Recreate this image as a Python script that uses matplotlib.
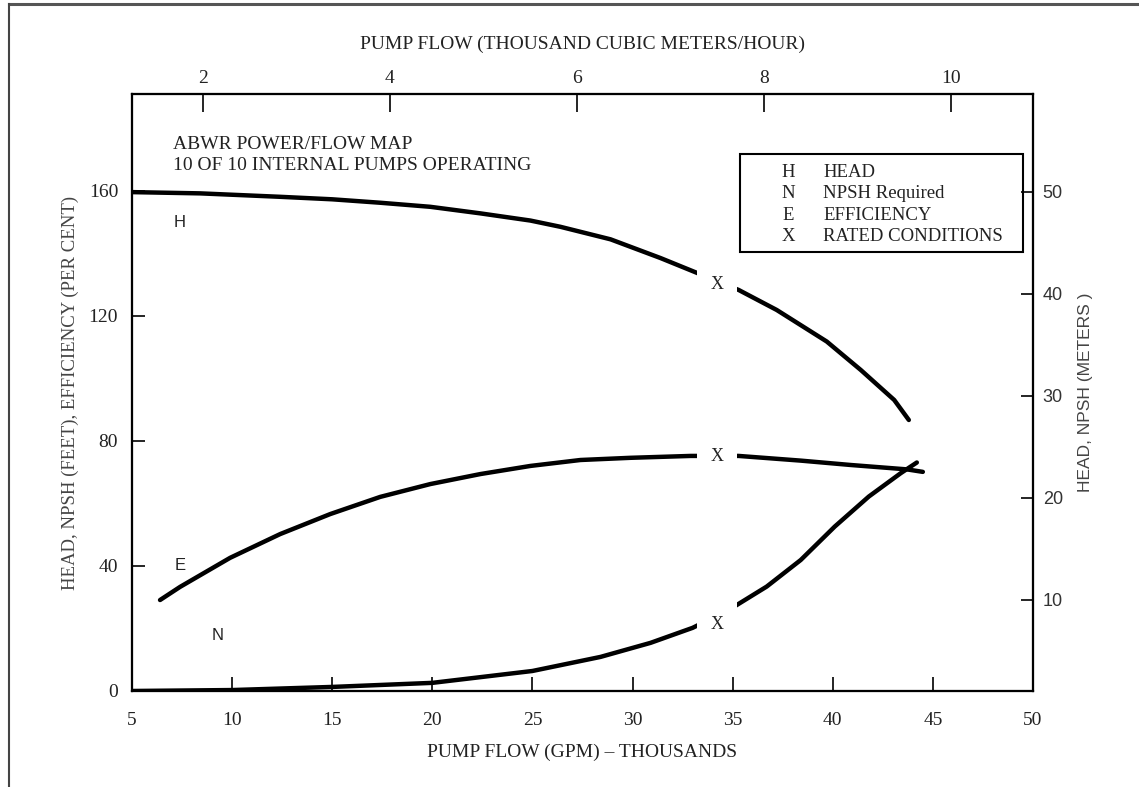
import matplotlib
matplotlib.use("Agg")
import matplotlib.pyplot as plt
from matplotlib.lines import Line2D
from matplotlib.patches import Rectangle

# pump curves (flow in thousand gpm, values in feet / per cent)
head_gpm = [5.0, 8.4, 12.4, 15.0, 17.4, 19.9, 22.4, 24.9, 26.4, 28.9, 31.4, 33.05,
            35.3, 37.2, 39.7, 41.4, 43.07, 43.8]
head_ft = [159.6, 159.2, 158.1, 157.3, 156.2, 154.9, 152.8, 150.5, 148.5, 144.5, 138.5, 134.2,
           128.3, 121.9, 111.8, 102.7, 93.1, 86.7]

eff_gpm = [6.4, 7.4, 9.9, 12.4, 14.9, 17.4, 19.9, 22.4, 24.9, 27.4, 29.9, 32.9,
           35.3, 38.4, 40.9, 43.7, 44.5]
eff_pct = [29.1, 33.3, 42.6, 50.2, 56.6, 62.1, 66.2, 69.4, 72.0, 73.9, 74.6, 75.2,
           75.2, 73.7, 72.3, 70.9, 70.1]

npsh_gpm = [5.0, 10.0, 15.0, 20.0, 25.0, 28.4, 30.9, 33.0, 34.8, 36.7, 38.4, 40.1,
            41.8, 43.4, 44.2]
npsh_ft = [0.0, 0.3, 1.3, 2.6, 6.4, 10.9, 15.4, 20.2, 25.9, 33.4, 41.9, 52.6,
           62.2, 69.7, 73.1]

rated_gpm = [34.2, 34.2, 34.2]
rated_val = [130.2, 75.0, 21.4]

curve_tags = ["H", "E", "N"]
tag_gpm = [7.4, 7.4, 9.3]
tag_val = [150.0, 40.3, 17.6]

legend_keys = ["H", "N", "E", "X"]
legend_names = ["HEAD", "NPSH Required", "EFFICIENCY", "RATED CONDITIONS"]

gpm_ticks = [5, 10, 15, 20, 25, 30, 35, 40, 45, 50]
ft_ticks = [0, 40, 80, 120, 160]
m_ticks = [10, 20, 30, 40, 50]
m3h_ticks = [2, 4, 6, 8, 10]

serif = "Liberation Serif"
sans = "Liberation Sans"
ink = "#222222"

fig = plt.figure(figsize=(11.39, 7.87), dpi=100)
ax = fig.add_axes([0.1159, 0.122, 0.791, 0.7586])
ax_r = ax.twinx()
ax_t = ax.twiny()

lw = 3.2
ax.plot(head_gpm, head_ft, color="black", lw=lw, solid_capstyle="round")
ax.plot(eff_gpm, eff_pct, color="black", lw=lw, solid_capstyle="round")
ax.plot(npsh_gpm, npsh_ft, color="black", lw=lw, solid_capstyle="round")

for g, v in zip(rated_gpm, rated_val):
    ax.text(g, v, "X", ha="center", va="center", fontsize=13, family=serif, color=ink,
            zorder=5, bbox=dict(boxstyle="square,pad=0.75", fc="white", ec="none"))

for t, g, v in zip(curve_tags, tag_gpm, tag_val):
    ax.text(g, v, t, ha="center", va="center", fontsize=12, family=sans, color=ink)

ax.text(0.0455, 0.9146, "ABWR POWER/FLOW MAP", transform=ax.transAxes, fontsize=14,
        family=serif, color=ink, va="center")
ax.text(0.0455, 0.8794, "10 OF 10 INTERNAL PUMPS OPERATING", transform=ax.transAxes,
        fontsize=14, family=serif, color=ink, va="center")

# legend box
ax.add_patch(Rectangle((0.675, 0.7353), 0.314, 0.1642, transform=ax.transAxes,
                       fill=False, ec="black", lw=1.5, zorder=4))
rows_y = [0.8677, 0.8325, 0.797, 0.7605]
for k, name, y in zip(legend_keys, legend_names, rows_y):
    ax.text(0.728, y, k, transform=ax.transAxes, ha="center", va="center",
            fontsize=13.5, family=serif, color=ink)
    ax.text(0.767, y, name, transform=ax.transAxes, ha="left", va="center",
            fontsize=13.5, family=serif, color=ink)

ax.set_xlim(5, 50)
ax.set_ylim(0, 191)
ax.set_xticks(gpm_ticks)
ax.set_yticks(ft_ticks)
ax.set_xlabel("PUMP FLOW (GPM) \u2013 THOUSANDS", fontsize=14, family=serif, color=ink, labelpad=11)
ax.set_ylabel("HEAD, NPSH (FEET), EFFICIENCY (PER CENT)", fontsize=13.5, family=serif,
              color="#444444", labelpad=7)
ax.tick_params(axis="x", direction="in", length=10, width=1.2, pad=15, labelsize=14, labelcolor=ink)
ax.tick_params(axis="y", direction="in", length=9.5, width=1.2, pad=10, labelsize=14, labelcolor=ink)
for lab in ax.get_xticklabels() + ax.get_yticklabels():
    lab.set_family(serif)

ax_r.set_ylim(1.08, 59.6)
ax_r.set_yticks(m_ticks)
ax_r.set_ylabel("HEAD, NPSH (METERS )", fontsize=12.5, family=sans, color="#444444",
                labelpad=11)
ax_r.tick_params(axis="y", direction="in", length=8.6, width=1.2, pad=7, labelsize=13,
                 labelcolor="#333333")
for lab in ax_r.get_yticklabels():
    lab.set_family(sans)

ax_t.set_xlim(1.24, 10.88)
ax_t.set_xticks(m3h_ticks)
ax_t.set_xlabel("PUMP FLOW (THOUSAND CUBIC METERS/HOUR)", fontsize=14, family=serif,
                color=ink, labelpad=15)
ax_t.tick_params(axis="x", direction="in", length=13, width=1.2, pad=5, labelsize=14, labelcolor=ink)
for lab in ax_t.get_xticklabels():
    lab.set_family(serif)

for a in (ax, ax_r, ax_t):
    for s in a.spines.values():
        s.set_linewidth(1.5)

# page frame lines
fig.add_artist(Line2D([0.0079, 1.0], [0.995, 0.995], transform=fig.transFigure,
                      color="#555555", lw=2.2))
fig.add_artist(Line2D([0.0079, 0.0079], [0.0, 0.995], transform=fig.transFigure,
                      color="#444444", lw=1.5))

fig.savefig("out.png", dpi=100)
